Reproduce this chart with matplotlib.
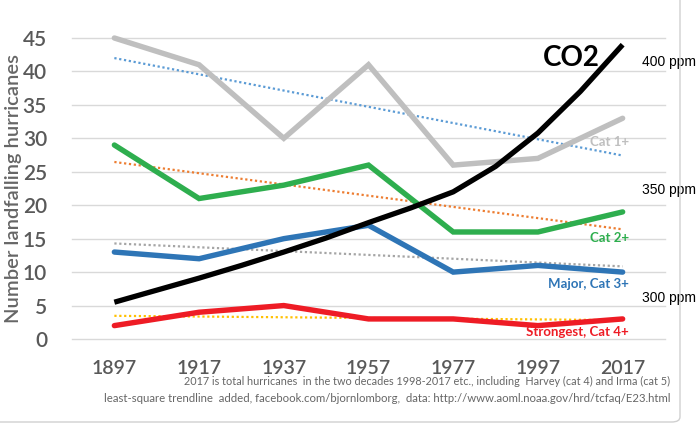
import numpy as np
import matplotlib
matplotlib.use("Agg")
import matplotlib.pyplot as plt
from matplotlib.patches import FancyBboxPatch

plt.rcParams['font.family'] = ['Lato', 'DejaVu Sans']

years = [1897, 1917, 1937, 1957, 1977, 1997, 2017]
cat1 = [45, 41, 30, 41, 26, 27, 33]
cat2 = [29, 21, 23, 26, 16, 16, 19]
major = [13, 12, 15, 17, 10, 11, 10]
strongest = [2, 4, 5, 3, 3, 2, 3]

# CO2 curve (in the hurricane-axis scale), every 10 years
co2_years = [1897, 1907, 1917, 1927, 1937, 1947, 1957, 1967, 1977, 1987, 1997, 2007, 2017]
co2_curve = [5.5, 7.3, 9.1, 11.0, 13.0, 15.1, 17.4, 19.6, 22.0, 25.8, 30.8, 37.0, 44.0]

ppm_labels = ['400 ppm', '350 ppm', '300 ppm']
ppm_levels = [41.4, 22.3, 6.1]

series = [
    (cat1, '#BFBFBF', '#5B9BD5', 'Cat 1+', 29.5),
    (cat2, '#2EAE4E', '#ED7D31', 'Cat 2+', 15.1),
    (major, '#2E75B6', '#A5A5A5', 'Major, Cat 3+', 8.2),
    (strongest, '#EE1C25', '#FFC000', 'Strongest, Cat 4+', 1.0),
]

fig = plt.figure(figsize=(7, 4.24), dpi=100)
ax = fig.add_axes([72/700, (424-339)/424, (665-72)/700, (339-38)/424])

# frame around the figure
frame = FancyBboxPatch((-20/700, 2/424), (680+20)/700, (424+40)/424,
                       boxstyle="round,pad=0,rounding_size=0.012",
                       transform=fig.transFigure, fill=False,
                       edgecolor='#D0D0D0', linewidth=1.0, zorder=0)
fig.patches.append(frame)

ax.set_xlim(1887, 2027)
ax.set_ylim(0, 45)
for v in range(0, 50, 5):
    ax.axhline(v, color='#D9D9D9', linewidth=1.0, zorder=1, clip_on=False)

x = np.array(years, dtype=float)
for vals, col, tcol, label, ly in series:
    coef = np.polyfit(x, np.array(vals, dtype=float), 1)
    ax.plot(x, np.polyval(coef, x), linestyle=(0, (1, 1.2)), color=tcol,
            linewidth=1.6, zorder=2, clip_on=False)
for vals, col, tcol, label, ly in series:
    ax.plot(x, vals, color=col, linewidth=3.9, zorder=3, clip_on=False,
            solid_capstyle='round', solid_joinstyle='miter')
    ax.text(2018.5, ly, label, color=col, fontsize=9.5, fontweight='bold',
            ha='right', va='center', zorder=5)

ax.plot(co2_years, co2_curve, color='black', linewidth=3.8, zorder=4,
        clip_on=False, solid_capstyle='butt')
ax.text(2004.8, 42.0, 'CO2', fontsize=20, fontweight='bold', color='black',
        ha='center', va='center', zorder=5)
for lab, lv in zip(ppm_labels, ppm_levels):
    ax.text(2021.5, lv, lab, fontsize=10, color='black', ha='left',
            va='center', zorder=5, clip_on=False,
            family=['Liberation Sans', 'DejaVu Sans'])

for s in ax.spines.values():
    s.set_visible(False)
ax.set_xticks(years)
ax.set_xticklabels([str(y) for y in years])
ax.set_yticks(range(0, 50, 5))
ax.tick_params(axis='both', length=0, colors='#595959')
ax.tick_params(axis='y', labelsize=15, pad=18)
ax.tick_params(axis='x', labelsize=14, pad=15)
for t in ax.get_xticklabels():
    t.set_fontweight('semibold')
for t in ax.get_yticklabels():
    t.set_fontweight('semibold')
ax.set_ylabel('Number landfalling hurricanes', fontsize=14.5, color='#666666',
              fontweight='semibold')
ax.yaxis.set_label_coords((22-72)/593, 0.5)

fig.text(670/700, 1 - 381/424,
         '2017 is total hurricanes  in the two decades 1998-2017 etc., including  Harvey (cat 4) and Irma (cat 5)',
         fontsize=7.8, color='#666666', ha='right', va='center')
fig.text(670/700, 1 - 399/424,
         'least-square trendline  added, facebook.com/bjornlomborg,  data: http://www.aoml.noaa.gov/hrd/tcfaq/E23.html',
         fontsize=8.2, color='#666666', ha='right', va='center')

fig.savefig('out.png', dpi=100)
